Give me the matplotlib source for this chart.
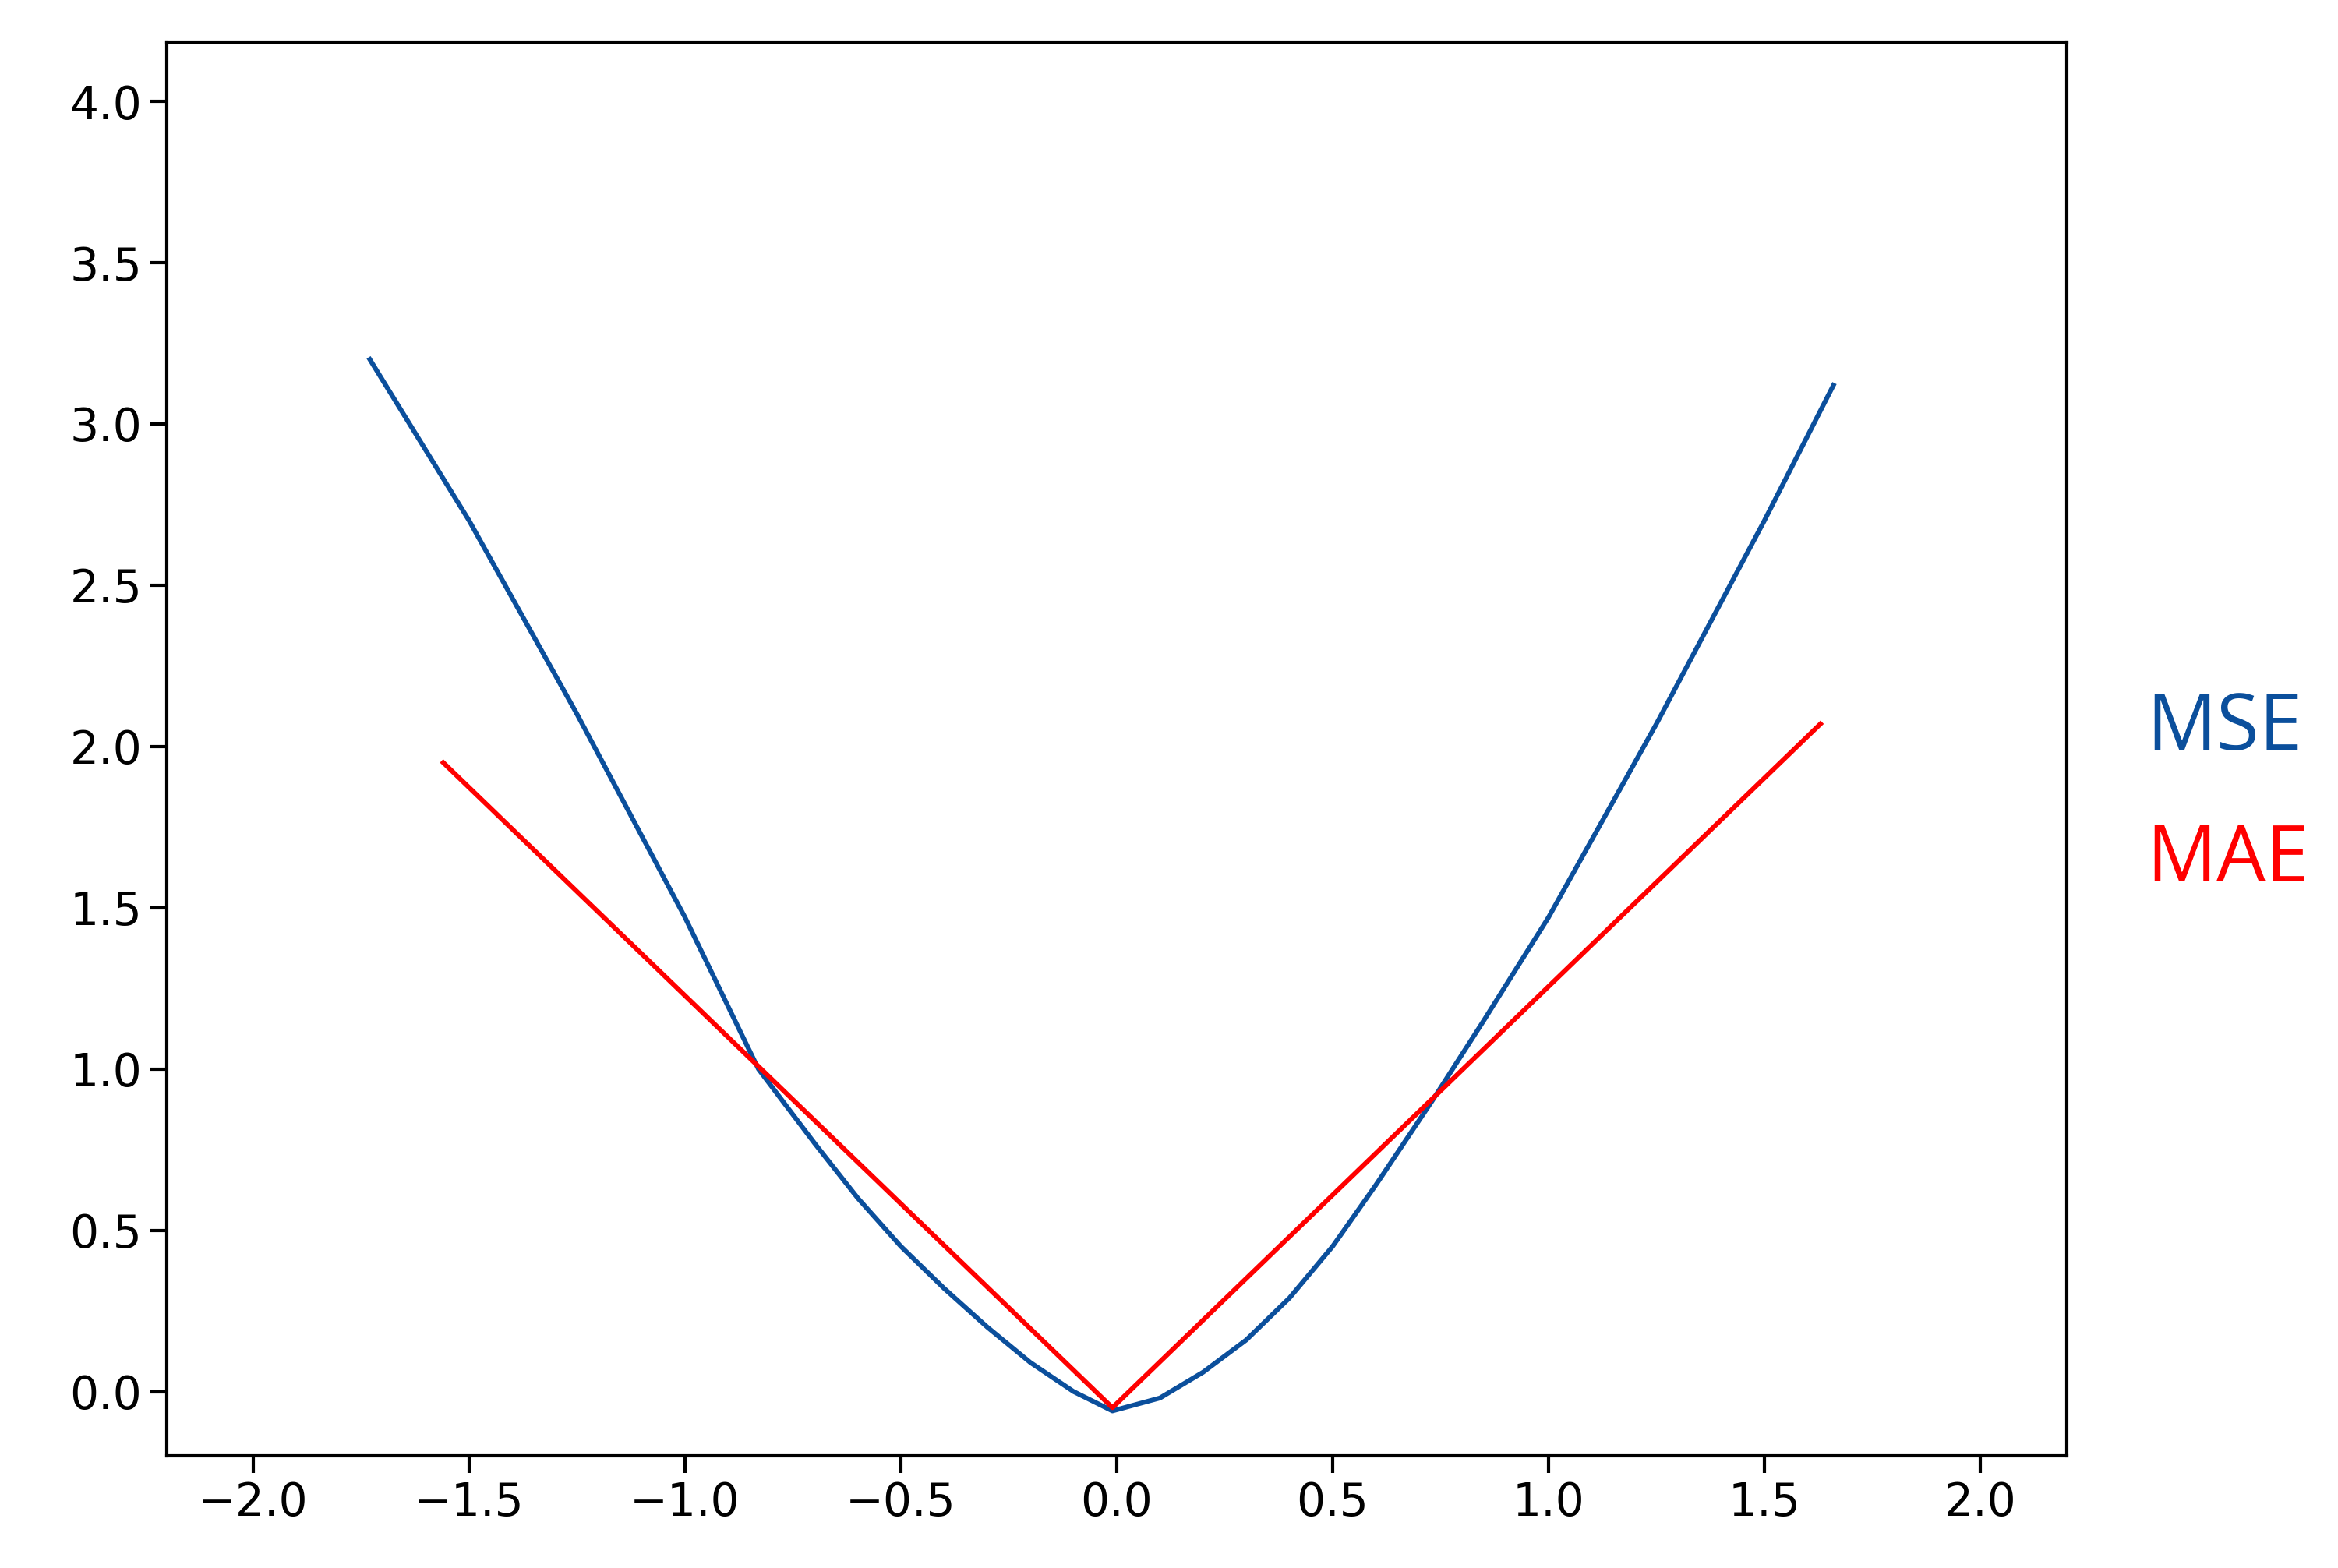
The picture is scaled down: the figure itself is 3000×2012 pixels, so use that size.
import numpy as np
import matplotlib.pyplot as plt

# MSE curve
mse_x = [-1.73, -1.5, -1.25, -1.0, -0.83, -0.7, -0.6, -0.5, -0.4, -0.3, -0.2, -0.1, -0.01,
         0.1, 0.2, 0.3, 0.4, 0.5, 0.6, 0.73, 0.85, 1.0, 1.25, 1.5, 1.66]
mse_y = [3.2, 2.7, 2.1, 1.47, 1.0, 0.77, 0.6, 0.45, 0.32, 0.2, 0.09, 0.0, -0.06,
         -0.02, 0.06, 0.16, 0.29, 0.45, 0.64, 0.9, 1.15, 1.47, 2.07, 2.7, 3.12]

# MAE lines
mae_x = [-1.56, -0.01, 1.63]
mae_y = [1.95, -0.05, 2.07]

blue = '#0B4F9C'
red = '#FF0000'

fig = plt.figure(figsize=(15, 10.06), dpi=200)
ax = fig.add_axes([0.0714, 0.0714, 0.8125, 0.902])

ax.plot(mse_x, mse_y, color=blue, linewidth=2.2)
ax.plot(mae_x, mae_y, color=red, linewidth=2.2)

ax.set_xlim(-2.2, 2.2)
ax.set_ylim(-0.2, 4.185)
ax.set_xticks(np.arange(-2.0, 2.01, 0.5))
ax.set_yticks(np.arange(0.0, 4.01, 0.5))
ax.tick_params(labelsize=21, length=8, width=1.5)
for s in ax.spines.values():
    s.set_linewidth(1.5)

fig.text(0.918, 0.535, 'MSE', color=blue, fontsize=36, family='Open Sans', va='center')
fig.text(0.918, 0.451, 'MAE', color=red, fontsize=36, family='Open Sans', va='center')

plt.savefig('out.png')
